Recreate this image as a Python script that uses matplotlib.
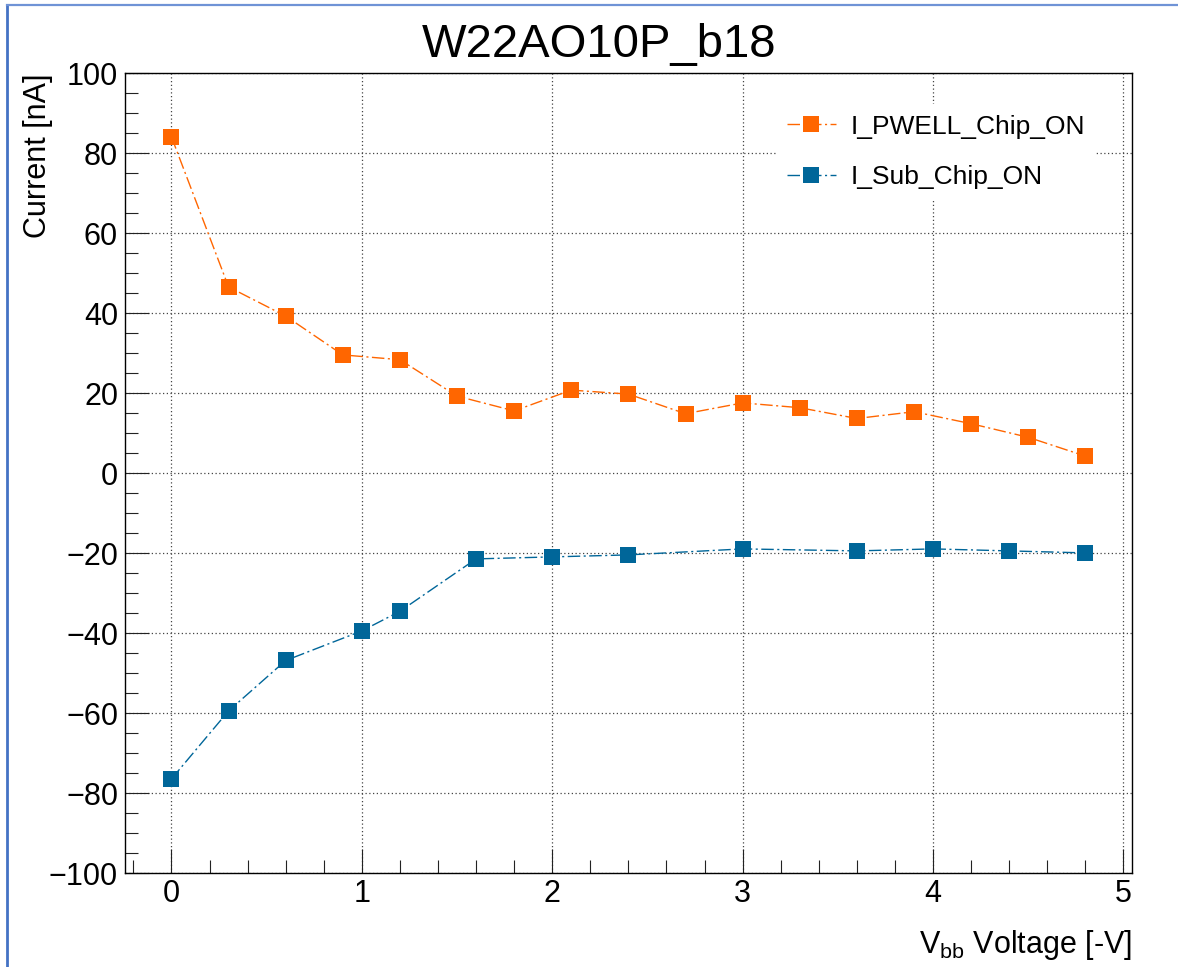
import matplotlib
matplotlib.use("Agg")
import matplotlib.pyplot as plt
from matplotlib.lines import Line2D
from matplotlib.ticker import MultipleLocator

plt.rcParams['font.family'] = ['Liberation Sans', 'DejaVu Sans']
plt.rcParams['mathtext.fontset'] = 'custom'
plt.rcParams['mathtext.rm'] = 'Liberation Sans'

title = "W22AO10P_b18"
xlabel = r"V$_{\rm bb}$ Voltage [-V]"
ylabel = "Current [nA]"

pwell_label = "I_PWELL_Chip_ON"
pwell_v = [0.0, 0.3, 0.6, 0.9, 1.2, 1.5, 1.8, 2.1, 2.4, 2.7, 3.0, 3.3, 3.6, 3.9, 4.2, 4.5, 4.8]
pwell_i = [84.1, 46.6, 39.3, 29.6, 28.4, 19.3, 15.6, 20.8, 19.8, 14.9, 17.6, 16.4, 13.7, 15.4, 12.4, 9.0, 4.3]

sub_label = "I_Sub_Chip_ON"
sub_v = [0.0, 0.3, 0.6, 1.0, 1.2, 1.6, 2.0, 2.4, 3.0, 3.6, 4.0, 4.4, 4.8]
sub_i = [-76.4, -59.4, -46.8, -39.4, -34.5, -21.4, -20.9, -20.4, -18.9, -19.4, -18.9, -19.4, -19.9]

orange = "#ff6600"
blue = "#006699"

W, H = 1178, 967
fig = plt.figure(figsize=(W / 100, H / 100), dpi=100)
ax = fig.add_axes([125 / W, 1 - 873.3 / H, (1132 - 125) / W, (873.3 - 73.3) / H])

ls = (0, (9, 2.5, 1.5, 2.5))
ax.plot(pwell_v, pwell_i, color=orange, lw=1.0, linestyle=ls, marker='s',
        markersize=11.5, markeredgewidth=0, label=pwell_label, zorder=3)
ax.plot(sub_v, sub_i, color=blue, lw=1.0, linestyle=ls, marker='s',
        markersize=11.5, markeredgewidth=0, label=sub_label, zorder=3)

ax.set_xlim(-0.244, 5.045)
ax.set_ylim(-100, 100)
ax.xaxis.set_major_locator(MultipleLocator(1))
ax.xaxis.set_minor_locator(MultipleLocator(0.2))
ax.yaxis.set_major_locator(MultipleLocator(20))
ax.yaxis.set_minor_locator(MultipleLocator(5))

ax.tick_params(which='both', direction='in', top=False, right=False, width=0.8, color='#222222')
ax.tick_params(which='major', length=17.3, labelsize=22)
ax.tick_params(axis='x', which='major', pad=4)
ax.tick_params(axis='y', which='major', pad=5)
ax.tick_params(which='minor', length=9.4)

ax.grid(True, which='major', color='#444444', linestyle=(0, (1, 2)), linewidth=0.9)
for s in ax.spines.values():
    s.set_linewidth(1.0)
    s.set_color('black')

leg = ax.legend(loc='upper left', bbox_to_anchor=(776 / W, 1 - 104 / H),
                bbox_transform=fig.transFigure, fontsize=19, frameon=True,
                fancybox=False, borderpad=0.4, borderaxespad=0,
                labelspacing=1.0, handlelength=1.86, handletextpad=0.55)
leg.get_frame().set_facecolor('white')
leg.get_frame().set_edgecolor('none')
leg.get_frame().set_alpha(1.0)

fig.text(599 / W, 1 - 57 / H, title, fontsize=34, ha='center', va='baseline')
fig.text(1132 / W, 1 - 953 / H, xlabel, fontsize=22, ha='right', va='baseline')
fig.text(38 / W, 1 - 73 / H, ylabel, fontsize=22, rotation=90, ha='center', va='top')

# outer blue border lines
fig.add_artist(Line2D([7 / W, 7 / W], [0, 1 - 5 / H], transform=fig.transFigure,
                      color='#4472C4', lw=2.0))
fig.add_artist(Line2D([7 / W, 1], [1 - 5 / H, 1 - 5 / H], transform=fig.transFigure,
                      color='#6f93d6', lw=1.6))

fig.savefig("out.png", dpi=100)
